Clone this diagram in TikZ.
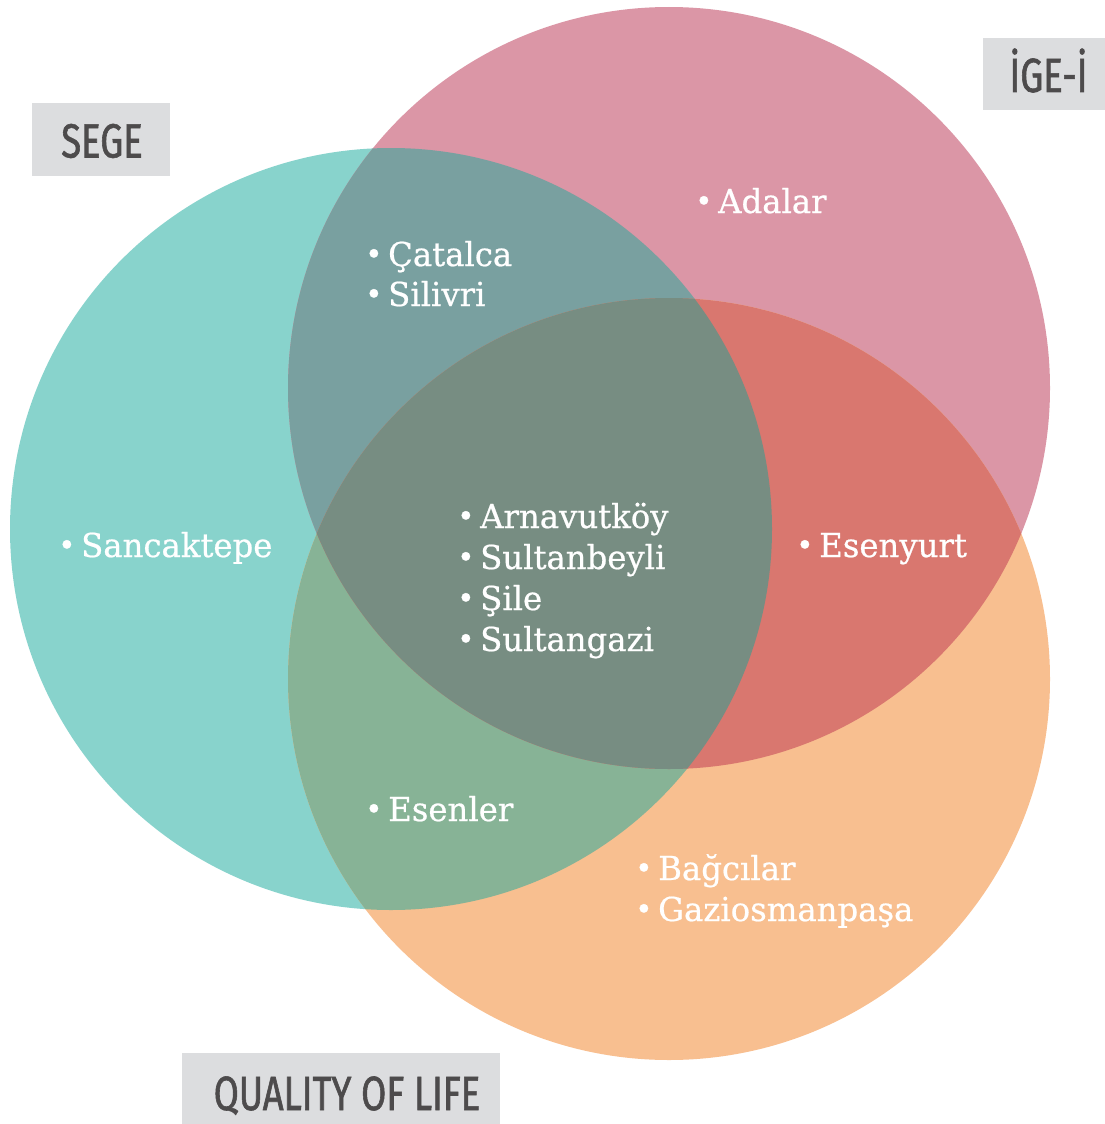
\documentclass[tikz,border=0pt]{standalone}
\usepackage{fontspec}
\newfontfamily\bodyfont[FakeStretch=0.98,FakeBold=0.6]{DejaVu Serif}
\newfontfamily\labfont[FakeStretch=0.76,FakeBold=1.2]{Fira Sans}
\definecolor{cteal}{HTML}{88D3CC}
\definecolor{cpink}{HTML}{DB96A6}
\definecolor{corange}{HTML}{F8BF90}
\definecolor{ctp}{HTML}{79A0A0}
\definecolor{cto}{HTML}{87B396}
\definecolor{cpo}{HTML}{D9776F}
\definecolor{call}{HTML}{778D82}
\definecolor{cbox}{HTML}{DCDDDF}
\definecolor{clab}{HTML}{4D4B4C}
\newcommand{\bul}{\makebox[19pt][l]{\hspace{-4pt}\raisebox{1.5pt}{\fontsize{30}{30}\selectfont •}}}
\begin{document}
\begin{tikzpicture}[x=1pt,y=-1pt,
  item/.style={anchor=base west,inner sep=0pt,text=white,font=\bodyfont\fontsize{33}{40}\selectfont},
  labbox/.style={fill=cbox,draw=none},
  labtext/.style={anchor=base,inner sep=0pt,text=clab,font=\labfont\fontsize{48}{50}\selectfont}]
\useasboundingbox (0,0) rectangle (1105,1124);
\def\tealc{(391,529) circle[radius=381]}
\def\pinkc{(669,388) circle[radius=381]}
\def\orangec{(669,679) circle[radius=381]}
\fill[cteal] \tealc;
\fill[cpink] \pinkc;
\fill[corange] \orangec;
\begin{scope}\clip \tealc; \fill[ctp] \pinkc; \end{scope}
\begin{scope}\clip \tealc; \fill[cto] \orangec; \end{scope}
\begin{scope}\clip \pinkc; \fill[cpo] \orangec; \end{scope}
\begin{scope}\clip \tealc; \clip \pinkc; \fill[call] \orangec; \end{scope}
% labels
\fill[labbox] (32,103) rectangle (170,176);
\node[labtext] (sege) at (102,157.5) {SEGE};
\fill[labbox] (983,38) rectangle (1105,110);
\node[labtext] (ige) at (1048.5,92) {İGE-İ};
\fill[labbox] (182,1053) rectangle (500,1124);
\node[labtext] (qol) at (347,1110) {QUALITY OF LIFE};
% items
\node[item] (adalar) at (699,213) {\bul Adalar};
\node[item] (catalca) at (369,266) {\bul Çatalca};
\node[item] (silivri) at (369,306) {\bul Silivri};
\node[item] (sancak) at (62,557) {\bul Sancaktepe};
\node[item] (arnav) at (461,528) {\bul Arnavutköy};
\node[item] (sultanb) at (461,569) {\bul Sultanbeyli};
\node[item] (sile) at (461,610) {\bul Şile};
\node[item] (sultang) at (461,651) {\bul Sultangazi};
\node[item] (esenyurt) at (800,557) {\bul Esenyurt};
\node[item] (esenler) at (369,821) {\bul Esenler};
\node[item] (bagcilar) at (639,880) {\bul Bağcılar};
\node[item] (gazi) at (639,921) {\bul Gaziosmanpaşa};
\end{tikzpicture}
\end{document}
